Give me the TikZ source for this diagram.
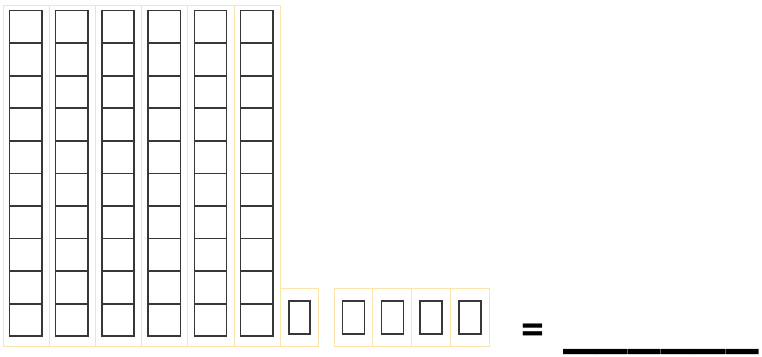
\documentclass[tikz,border=0pt]{standalone}
\usepackage{fontspec}
\setmainfont{Carlito}
\definecolor{rodframe}{RGB}{250,228,170}
\definecolor{unitline}{RGB}{55,55,55}
\tikzset{placeval/.style={x=1pt,y=-1pt},
  frame/.style={draw=rodframe,line width=0.8pt},
  unit/.style={draw=unitline,line width=1.5pt}}

\begin{document}
\begin{tikzpicture}[placeval]
    \useasboundingbox (0,0) rectangle (762,356);
    \def\colw{46.2}
    \def\onew{38.75}
    % six tens rods
    \foreach \c in {0,...,5} {
      \draw[frame] ({3+\c*\colw},5) rectangle ({3+(\c+1)*\colw},346);
      \foreach \p in {0,...,4} {
        \draw[unit] ({9.5+\c*\colw},{10.7+\p*65.2}) rectangle ++(32.3,64.6);
        \draw[unit] ({9.5+\c*\colw},{10.7+\p*65.2+32.3}) -- ++(32.3,0);
      }
    }
    % single one next to the rods
    \draw[frame] (280,288) rectangle (318,346);
    \draw[unit] (289,301) rectangle (310,334);
    % four ones
    \foreach \k in {0,...,3} {
      \draw[frame] ({334+\k*\onew},288) rectangle ++(\onew,58);
      \draw[unit] ({342.7+\k*\onew},301) rectangle ++(22,33);
    }
    \node[font=\fontsize{46}{46}\selectfont\bfseries,inner sep=0pt] (eq) at (533,334.5) {=};
    \node[font=\fontsize{65.5}{66}\selectfont\bfseries,inner sep=0pt,anchor=base west] (blank) at (563,345.8) {\_\_\_\_\_\_};
\end{tikzpicture}
\end{document}
